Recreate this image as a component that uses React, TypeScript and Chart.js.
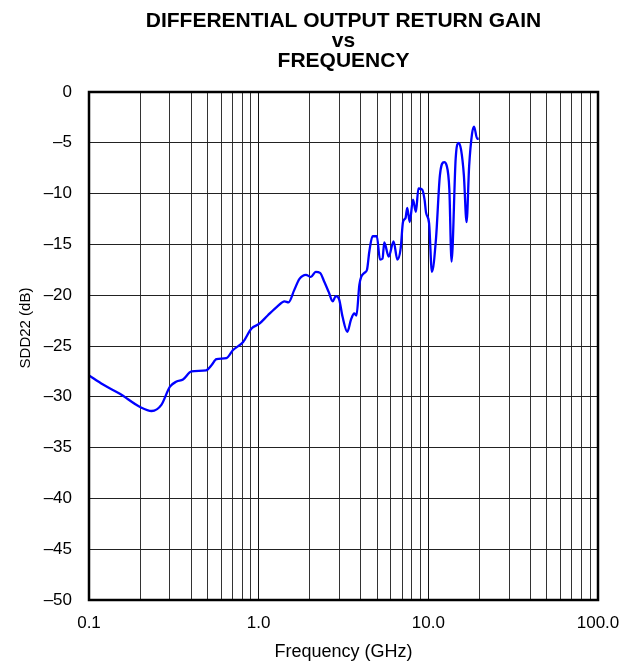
import React, { useEffect, useRef } from "react";
import { Chart, registerables } from "chart.js";

Chart.register(...registerables);

const titleLines = ["DIFFERENTIAL OUTPUT RETURN GAIN", "vs", "FREQUENCY"];
const xAxisTitle = "Frequency (GHz)";
const yAxisTitle = "SDD22 (dB)";

const frequencyGHz = [
  0.1, 0.121, 0.152, 0.2, 0.234, 0.267, 0.3, 0.328, 0.358, 0.402, 0.49, 0.527, 0.564, 0.645,
  0.706, 0.81, 0.905, 1.01, 1.13, 1.29, 1.42, 1.5, 1.62, 1.74, 1.9, 2.03, 2.17, 2.3, 2.44,
  2.59, 2.73, 2.85, 2.98, 3.12, 3.33, 3.5, 3.66, 3.77, 3.92, 4.02, 4.2, 4.35, 4.49, 4.69,
  4.97, 5.19, 5.37, 5.5, 5.84, 6.24, 6.57, 6.87, 7.09, 7.34, 7.51, 7.77, 8.12, 8.45, 8.74,
  9.2, 9.5, 9.7, 10.1, 10.5, 11.1, 11.7, 12.4, 12.8, 13.3, 13.7, 14.5, 15.1, 15.6, 16.2,
  16.8, 17.4, 18.1, 18.6, 19.4, 19.8,
];
const sdd22dB = [
  -27.9, -28.8, -29.7, -31.0, -31.4, -30.8, -29.0, -28.5, -28.3, -27.5, -27.4, -26.9, -26.3,
  -26.2, -25.4, -24.6, -23.3, -22.8, -22.0, -21.1, -20.6, -20.7, -19.5, -18.4, -18.0, -18.2,
  -17.7, -17.8, -18.7, -19.7, -20.6, -20.1, -20.4, -22.1, -23.6, -22.4, -21.8, -22.0, -19.0,
  -18.2, -17.8, -17.5, -15.7, -14.2, -14.2, -16.5, -16.4, -14.8, -16.2, -14.7, -16.5, -15.4,
  -12.8, -12.4, -11.4, -12.8, -10.6, -11.8, -9.5, -9.6, -10.6, -11.9, -12.9, -17.7, -14.4,
  -8.2, -6.9, -7.2, -9.6, -16.7, -6.5, -5.0, -5.7, -8.2, -12.8, -7.3, -4.1, -3.4, -4.6, -4.6,
];

const xGridValues = [
  0.1, 0.2, 0.3, 0.4, 0.5, 0.6, 0.7, 0.8, 0.9, 1, 2, 3, 4, 5, 6, 7, 8, 9, 10, 20, 30, 40, 50,
  60, 70, 80, 90, 100,
];
const xTickValues = [0.1, 1, 10, 100];
const xTickLabels = ["0.1", "1.0", "10.0", "100.0"];
const yMin = -50;
const yMax = 0;
const yStep = 5;

const FONT = "'Liberation Sans', Arial, Helvetica, sans-serif";

const decorPlugin = {
  id: "decor",
  afterDraw(chart: any) {
    const { ctx, chartArea } = chart;
    ctx.save();
    ctx.strokeStyle = "#000";
    ctx.lineWidth = 2.5;
    ctx.strokeRect(chartArea.left, chartArea.top, chartArea.right - chartArea.left, chartArea.bottom - chartArea.top);
    const cx = (chartArea.left + chartArea.right) / 2;
    ctx.fillStyle = "#000";
    ctx.textAlign = "center";
    ctx.textBaseline = "alphabetic";
    ctx.font = `bold 21px ${FONT}`;
    const baselines = [27, 47, 67];
    titleLines.forEach((t, i) => ctx.fillText(t, cx, baselines[i]));
    ctx.font = `18px ${FONT}`;
    ctx.fillText(xAxisTitle, cx, 657);
    ctx.translate(30, 328);
    ctx.rotate(-Math.PI / 2);
    ctx.font = `15px ${FONT}`;
    ctx.fillText(yAxisTitle, 0, 0);
    ctx.restore();
  },
};

function isDecade(v: number) {
  const l = Math.log10(v);
  return Math.abs(l - Math.round(l)) < 1e-6;
}

export default function App() {
  const ref = useRef<HTMLCanvasElement>(null);
  useEffect(() => {
    if (!ref.current) return;
    const chart = new Chart(ref.current, {
      type: "line",
      data: {
        datasets: [
          {
            data: frequencyGHz.map((f, i) => ({ x: f, y: sdd22dB[i] })),
            borderColor: "#0000FF",
            borderWidth: 2.3,
            pointRadius: 0,
            fill: false,
            cubicInterpolationMode: "monotone",
          },
        ],
      },
      options: {
        animation: false,
        responsive: false,
        devicePixelRatio: 1,
        layout: { padding: { top: 92, right: 36, left: 0, bottom: 0 } },
        plugins: { legend: { display: false }, title: { display: false }, tooltip: { enabled: false } },
        scales: {
          x: {
            type: "logarithmic",
            min: 0.1,
            max: 100,
            afterBuildTicks: (scale: any) => {
              scale.ticks = xGridValues.map((v) => ({ value: v }));
            },
            afterFit: (scale: any) => {
              scale.height = 64;
            },
            ticks: {
              autoSkip: false,
              maxRotation: 0,
              minRotation: 0,
              padding: 13,
              color: "#000",
              font: { family: FONT, size: 17 },
              callback: (v: any) => {
                const val = Number(v);
                if (!isDecade(val)) return "";
                const idx = xTickValues.findIndex((t) => Math.abs(t - val) / t < 1e-6);
                return idx >= 0 ? xTickLabels[idx] : "";
              },
            },
            grid: {
              drawTicks: false,
              color: (c: any) => (c.tick && isDecade(c.tick.value) ? "#111" : "#333"),
              lineWidth: 1,
            },
            border: { display: false },
          },
          y: {
            type: "linear",
            min: yMin,
            max: yMax,
            afterFit: (scale: any) => {
              scale.width = 89;
            },
            ticks: {
              stepSize: yStep,
              padding: 17,
              color: "#000",
              font: { family: FONT, size: 17 },
              callback: (v: any) => (Number(v) === 0 ? "0" : "\u2013" + Math.abs(Number(v))),
            },
            grid: { drawTicks: false, color: "#222", lineWidth: 1 },
            border: { display: false },
          },
        },
      },
      plugins: [decorPlugin],
    } as any);
    return () => chart.destroy();
  }, []);
  return (
    <div style={{ position: "fixed", left: 0, top: 0, width: 634, height: 664, background: "#fff" }}>
      <canvas ref={ref} width={634} height={664} style={{ display: "block" }} />
    </div>
  );
}
